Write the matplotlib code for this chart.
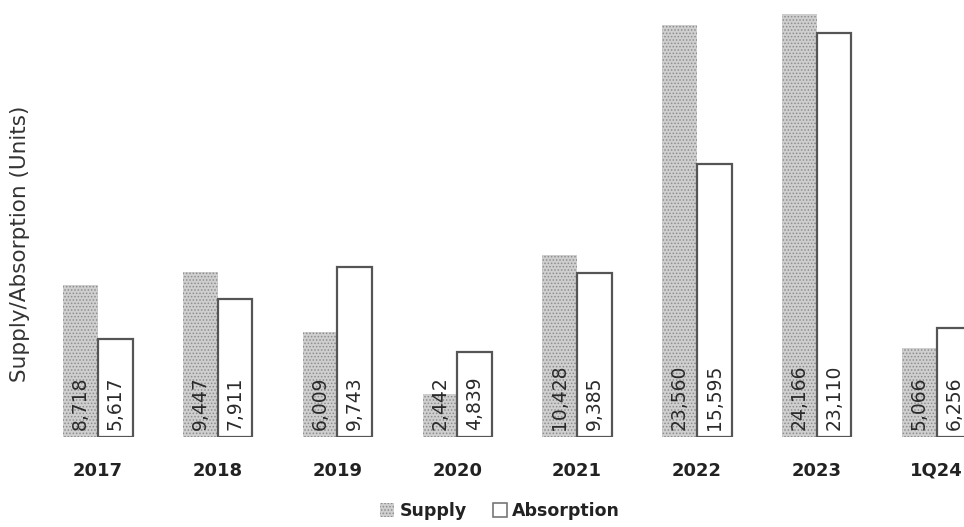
import matplotlib.pyplot as plt
from matplotlib.patches import Patch
import numpy as np

# chart data
years = ['2017', '2018', '2019', '2020', '2021', '2022', '2023', '1Q24']
supply = [8718, 9447, 6009, 2442, 10428, 23560, 24166, 5066]
absorption = [5617, 7911, 9743, 4839, 9385, 15595, 23110, 6256]


def main():
    fig = plt.figure(figsize=(9.64, 5.27), dpi=100)
    ax = fig.add_axes([0.06, 1 - 437 / 527, 0.94, 437 / 527])

    x = np.arange(len(years))
    w = 0.29

    # supply bars: gray dotted texture
    plt.rcParams['hatch.linewidth'] = 0.7
    ax.bar(x - w / 2, supply, w, color='#cfcfcf', edgecolor='#8c8c8c',
           hatch='.....', linewidth=0)
    # absorption bars: white with dark border
    ax.bar(x + w / 2, absorption, w, color='white', edgecolor='#555555',
           linewidth=1.6)

    # value labels, vertical, near the bottom of each bar
    for i in range(len(years)):
        ax.annotate(f'{supply[i]:,}', (x[i] - w / 2, 0), xytext=(0, 5),
                    textcoords='offset points', rotation=90, ha='center',
                    va='bottom', fontsize=13.5, color='#2a2a2a')
        ax.annotate(f'{absorption[i]:,}', (x[i] + w / 2, 0), xytext=(0, 5),
                    textcoords='offset points', rotation=90, ha='center',
                    va='bottom', fontsize=13.5, color='#2a2a2a')

    ax.set_xlim(-0.334, 7.229)
    ax.set_ylim(0, 24985)
    ax.set_xticks(x)
    ax.set_xticklabels(years, fontsize=13, fontweight='bold', color='#222222')
    ax.tick_params(axis='x', length=0, pad=18)
    ax.set_yticks([])
    for s in ax.spines.values():
        s.set_visible(False)

    fig.text(20 / 964, 1 - 244 / 527, 'Supply/Absorption (Units)', rotation=90,
             ha='center', va='center', fontsize=15.5, color='#333333')

    handles = [Patch(facecolor='#cfcfcf', edgecolor='#8c8c8c', hatch='.....', linewidth=0),
               Patch(facecolor='white', edgecolor='#777777', linewidth=1.2)]
    fig.legend(handles, ['Supply', 'Absorption'], loc='center',
               bbox_to_anchor=(500 / 964, 1 - 511 / 527), ncol=2, frameon=False,
               prop={'size': 12.5, 'weight': 'bold'}, handlelength=0.8,
               handleheight=0.8, handletextpad=0.3, columnspacing=1.5,
               labelcolor='#222222')

    fig.savefig('out.png', dpi=100)


if __name__ == "__main__":
    main()
